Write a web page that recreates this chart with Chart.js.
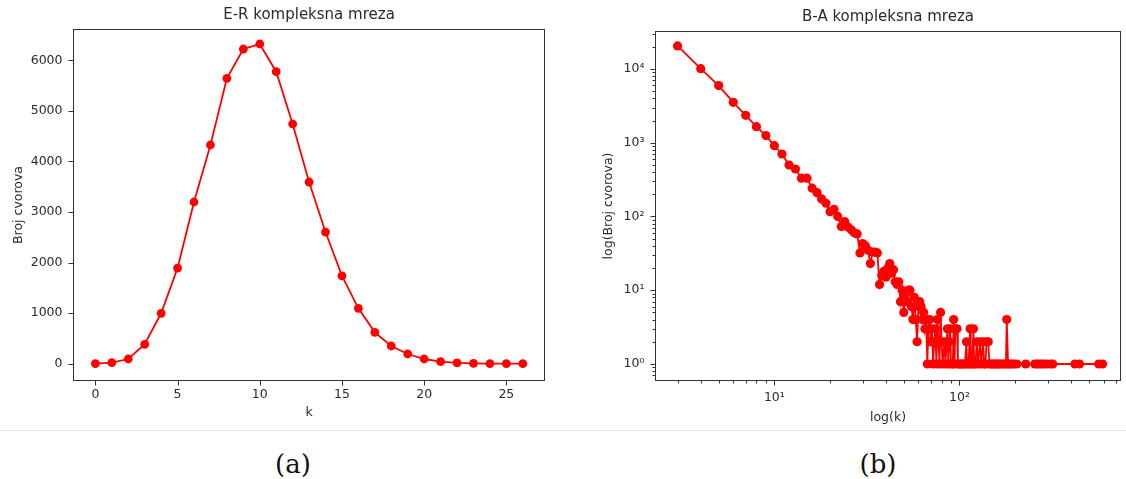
<!DOCTYPE html>
<html><head><meta charset="utf-8">
<script src="https://cdn.jsdelivr.net/npm/chart.js@4.4.0/dist/chart.umd.min.js"></script>
<style>
html,body{margin:0;padding:0;background:#fff;}
body{width:1126px;height:479px;position:relative;overflow:hidden;}
#c1{position:absolute;left:0;top:0;}
#c2{position:absolute;left:560px;top:0;}
.sep{position:absolute;left:0;top:430px;width:1126px;height:1px;background:#e8e8e8;}
.cap{position:absolute;font-family:"DejaVu Serif";font-size:26px;color:#111;transform:translate(-50%,-50%);top:464px;white-space:nowrap;}
</style></head>
<body>
<canvas id="c1" width="560" height="431"></canvas>
<canvas id="c2" width="566" height="431"></canvas>
<div class="sep"></div>
<div class="cap" style="left:293px">(a)</div>
<div class="cap" style="left:878px">(b)</div>
<script>
// ---------- E-R data ----------
const erTitle = 'E-R kompleksna mreza';
const erK = [0,1,2,3,4,5,6,7,8,9,10,11,12,13,14,15,16,17,18,19,20,21,22,23,24,25,26];
const erCounts = [3,20,93,384,997,1892,3198,4325,5644,6223,6322,5774,4740,3593,2604,1737,1095,620,350,192,93,40,15,6,2,1,0];
const erXTicks = [0,5,10,15,20,25];
const erYTicks = [0,1000,2000,3000,4000,5000,6000];
const erXLabel = 'k';
const erYLabel = 'Broj cvorova';

// ---------- B-A data ----------
const baTitle = 'B-A kompleksna mreza';
const baK = [3,4,5,6,7,8,9,10,11,12,13,14,15,16,17,18,19,20,21,22,23,24,25,26,27,28,29,30,
  31,32,33,34,35,36,37,38,39,40,41,42,43,44,45,46,47,48,49,50,51,52,53,54,55,56,57,58,59,60,
  61,62,63,64,65,66,67,68,69,70,71,72,73,74,75,76,77,78,79,80,81,83,84,86,87,88,89,90,92,93,94,95,97,98,
  100,101,103,105,107,109,110,112,114,115,117,119,120,122,124,126,129,131,134,136,138,140,143,145,148,
  151,154,157,160,163,166,170,174,178,180,183,187,192,197,204,228,255,262,270,278,286,296,310,319,420,445,565,592];
const baCounts = [20500,10100,5950,3530,2350,1650,1250,912,703,499,440,330,330,242,210,173,151,116,125,100,73,85,72,66,60,58,32,43,
  40,35,23,33,33,32,12,16,18,15,20,23,17,19,13,12,13,7,10,5,9,7,10,10,6,4,8,4,2,6,
  7,6,4,5,3,4,1,3,4,2,3,1,2,3,1,4,2,1,5,2,1,2,1,3,1,2,3,1,1,4,1,3,3,1,
  1,1,1,1,1,2,1,1,3,1,1,3,1,1,2,1,2,1,2,1,1,2,2,1,1,
  1,1,1,1,1,1,1,1,1,4,1,1,1,1,1,1,1,1,1,1,1,1,1,1,1,1,1,1];
const baXTicks = [3,4,5,6,7,8,9,10,20,30,40,50,60,70,80,90,100,200,300,400,500,600,700];
const baYTicks = [0.7,0.8,0.9,1,2,3,4,5,6,7,8,9,10,20,30,40,50,60,70,80,90,100,200,300,400,500,600,700,800,900,
  1000,2000,3000,4000,5000,6000,7000,8000,9000,10000,20000,30000];
const baXMajor = [10,100];
const baXMajorLabels = ['10\u00B9','10\u00B2'];
const baYMajor = [1,10,100,1000,10000];
const baYMajorLabels = ['10\u2070','10\u00B9','10\u00B2','10\u00B3','10\u2074'];
const baXLabel = 'log(k)';
const baYLabel = 'log(Broj cvorova)';

const FONT = 'DejaVu Sans';
const TXT = '#2a2a2a';
const RED = '#ff0000';

const framePlugin = {
  id: 'frame',
  afterDraw(chart, args, opts) {
    const {ctx, chartArea: a} = chart;
    ctx.save();
    ctx.strokeStyle = '#333';
    ctx.lineWidth = 1;
    ctx.strokeRect(a.left, a.top, a.right - a.left, a.bottom - a.top);
    const xs = chart.scales.x, ys = chart.scales.y;
    ctx.beginPath();
    xs.ticks.forEach(t => {
      const p = Math.round(xs.getPixelForValue(t.value)) + 0.5;
      const len = t.mj ? 5 : 3;
      ctx.moveTo(p, a.bottom); ctx.lineTo(p, a.bottom + len);
    });
    ys.ticks.forEach(t => {
      const p = Math.round(ys.getPixelForValue(t.value)) + 0.5;
      const len = t.mj ? 5 : 3;
      ctx.moveTo(a.left, p); ctx.lineTo(a.left - len, p);
    });
    ctx.stroke();
    ctx.fillStyle = TXT;
    ctx.font = '15px "' + FONT + '"';
    ctx.textAlign = 'center';
    ctx.textBaseline = 'middle';
    ctx.fillText(opts.text, (a.left + a.right) / 2, opts.y);
    ctx.restore();
  }
};

function tickFont() { return {family: FONT, size: 12.5}; }

// ---------- Chart 1 ----------
new Chart(document.getElementById('c1'), {
  type: 'line',
  data: {
    datasets: [{
      data: erK.map((k, i) => ({x: k, y: erCounts[i]})),
      borderColor: RED, backgroundColor: RED, borderWidth: 1.8,
      pointRadius: 4.4, pointBackgroundColor: RED, pointBorderWidth: 0, pointHoverRadius: 4.4,
      tension: 0, fill: false
    }]
  },
  plugins: [framePlugin],
  options: {
    responsive: false, animation: false, devicePixelRatio: 1,
    layout: {padding: {left: 0, top: 29.5, right: 15.5, bottom: 0}},
    plugins: {legend: {display: false}, tooltip: {enabled: false}, title: {display: false},
      frame: {text: erTitle, y: 15}},
    scales: {
      x: {
        type: 'linear', min: -1.33, max: 27.32,
        afterBuildTicks: s => { s.ticks = erXTicks.map(v => ({value: v, mj: true})); },
        afterFit: s => { s.height = 431 - 380.5; },
        grid: {display: false, drawTicks: false}, border: {display: false},
        ticks: {autoSkip: false, maxRotation: 0, padding: 7, color: TXT, font: tickFont(),
          callback: v => String(v)},
        title: {display: true, text: erXLabel, color: TXT, font: tickFont(), padding: {top: 0, bottom: 10.5}}
      },
      y: {
        type: 'linear', min: -332, max: 6609,
        afterBuildTicks: s => { s.ticks = erYTicks.map(v => ({value: v, mj: true})); },
        afterFit: s => { s.width = 73.5; },
        grid: {display: false, drawTicks: false}, border: {display: false},
        ticks: {autoSkip: false, padding: 11, color: TXT, font: tickFont(), callback: v => String(v)},
        title: {display: true, text: erYLabel, color: TXT, font: tickFont(), padding: {top: 10.8, bottom: 0}}
      }
    }
  }
});

// ---------- Chart 2 ----------
new Chart(document.getElementById('c2'), {
  type: 'line',
  data: {
    datasets: [{
      data: baK.map((k, i) => ({x: k, y: baCounts[i]})),
      borderColor: RED, backgroundColor: RED, borderWidth: 1.8,
      pointRadius: 4.6, pointBackgroundColor: RED, pointBorderWidth: 0, pointHoverRadius: 4.6,
      tension: 0, fill: false
    }]
  },
  plugins: [framePlugin],
  options: {
    responsive: false, animation: false, devicePixelRatio: 1,
    layout: {padding: {left: 0, top: 31.5, right: 3.5, bottom: 0}},
    plugins: {legend: {display: false}, tooltip: {enabled: false}, title: {display: false},
      frame: {text: baTitle, y: 17}},
    scales: {
      x: {
        type: 'logarithmic', min: 2.28, max: 741,
        afterBuildTicks: s => { s.ticks = baXTicks.map(v => ({value: v, mj: baXMajor.includes(v)})); },
        afterFit: s => { s.height = 431 - 380.5; },
        grid: {display: false, drawTicks: false}, border: {display: false},
        ticks: {autoSkip: false, maxRotation: 0, minRotation: 0, padding: 10, color: TXT, font: tickFont(),
          callback: v => { const i = baXMajor.indexOf(v); return i >= 0 ? baXMajorLabels[i] : ''; }},
        title: {display: true, text: baXLabel, color: TXT, font: tickFont(), padding: {top: 0, bottom: 5.5}}
      },
      y: {
        type: 'logarithmic', min: 0.597, max: 32200,
        afterBuildTicks: s => { s.ticks = baYTicks.map(v => ({value: v, mj: baYMajor.includes(v)})); },
        afterFit: s => { s.width = 95.5; },
        grid: {display: false, drawTicks: false}, border: {display: false},
        ticks: {autoSkip: false, padding: 11, color: TXT, font: tickFont(),
          callback: v => { const i = baYMajor.indexOf(v); return i >= 0 ? baYMajorLabels[i] : ''; }},
        title: {display: true, text: baYLabel, color: TXT, font: tickFont(), padding: {top: 41.2, bottom: 0}}
      }
    }
  }
});
</script>
</body></html>
